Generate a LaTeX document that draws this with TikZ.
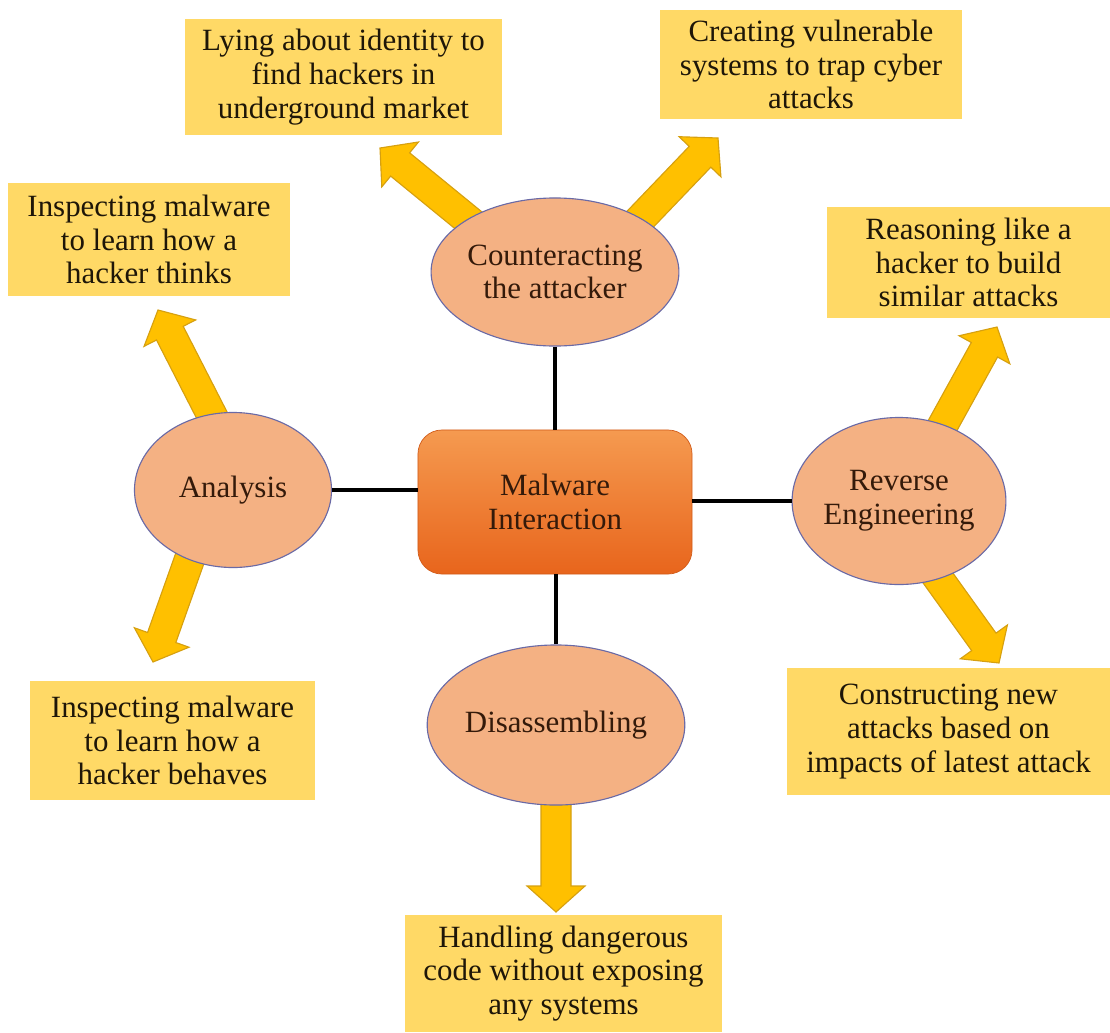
\documentclass[tikz,border=0pt]{standalone}
\usepackage{fontspec}
\setmainfont{Liberation Serif}
\usetikzlibrary{calc,positioning,shapes.geometric,backgrounds}

\definecolor{boxfill}{HTML}{FFD966}
\definecolor{arrfill}{HTML}{FFC000}
\definecolor{arredge}{HTML}{D6A010}
\definecolor{ovalfill}{HTML}{F4B183}
\definecolor{ovaledge}{HTML}{6A6AA6}
\definecolor{hubtop}{HTML}{F59A50}
\definecolor{hubbot}{HTML}{E8651C}
\definecolor{inkbrown}{HTML}{341A0A}
\definecolor{inkdark}{HTML}{1E1608}

% block arrow from #1 to #2
\newcommand{\fatarrow}[2]{%
  \filldraw[fatarr] ($(#1)!-0.2cm!(#2)!0.375cm!90:(#2)$)
    -- ($(#2)!0.65cm!(#1)!0.375cm!90:(#2)$)
    -- ($(#2)!0.65cm!(#1)!0.725cm!90:(#2)$)
    -- (#2)
    -- ($(#2)!0.65cm!(#1)!0.725cm!-90:(#2)$)
    -- ($(#2)!0.65cm!(#1)!0.375cm!-90:(#2)$)
    -- ($(#1)!-0.2cm!(#2)!0.375cm!-90:(#2)$) -- cycle;}

\begin{document}
\begin{tikzpicture}[x=0.025cm, y=-0.025cm,
  idea/.style={fill=boxfill, inner sep=0pt, align=center, text=inkdark,
    font=\fontsize{22}{24}\selectfont},
  oval/.style={ellipse, draw=ovaledge, line width=0.8pt, fill=ovalfill, inner sep=0pt,
    align=center, text=inkbrown, font=\fontsize{22}{24}\selectfont},
  hub/.style={rounded corners=0.6cm, draw=hubbot!90!black, line width=0.5pt,
    top color=hubtop, bottom color=hubbot, inner sep=0pt, align=center,
    text=inkbrown, font=\fontsize{22}{24}\selectfont},
  link/.style={line width=2.8pt},
  fatarr/.style={fill=arrfill, draw=arredge, line width=0.8pt, line join=miter}]

\useasboundingbox (0,0) rectangle (1110,1032);

% Centro
\node[hub, minimum width=6.85cm, minimum height=3.6cm] (hub) at (555,502) {Malware\\Interaction};

% Ellissi
\node[oval, minimum width=4.85cm, minimum height=3.7cm] (cnt) at (555,272) {Counteracting\\the attacker};
\node[oval, minimum width=4.925cm, minimum height=3.875cm] (ana) at (233,490) {Analysis};
\node[oval, minimum width=4.7cm, minimum height=4.175cm] (rev) at (899,501) {Reverse\\Engineering};
\node[oval, minimum width=4.675cm, minimum height=4cm] (dis) at (556,725) {Disassembling};

% Riquadri
\node[idea, minimum width=7.925cm, minimum height=2.9cm] (lie) at (343.5,77)
  {Lying about identity to\\find hackers in\\underground market};
\node[idea, minimum width=7.55cm, minimum height=2.725cm] (trap) at (811,64.5)
  {Creating vulnerable\\systems to trap cyber\\attacks};
\node[idea, minimum width=7.05cm, minimum height=2.825cm] (think) at (149,239.5)
  {Inspecting malware\\to learn how a\\hacker thinks};
\node[idea, minimum width=7.075cm, minimum height=2.775cm] (reason) at (968.5,262.5)
  {Reasoning like a\\hacker to build\\similar attacks};
\node[idea, minimum width=7.125cm, minimum height=2.975cm] (behave) at (172.5,740.5)
  {Inspecting malware\\to learn how a\\hacker behaves};
\node[idea, minimum width=8.075cm, minimum height=3.175cm] (build) at (948.5,731.5)
  {Constructing new\\attacks based on\\impacts of latest attack};
\node[idea, minimum width=7.925cm, minimum height=2.925cm] (handle) at (563.5,973.5)
  {Handling dangerous\\code without exposing\\any systems};

% Punte delle frecce
\coordinate (tLie) at (380,148);
\coordinate (tTrap) at (718,138);
\coordinate (tThink) at (158,310);
\coordinate (tBehave) at (153,662);
\coordinate (tReason) at (997,327);
\coordinate (tBuild) at (999,663);
\coordinate (tHandle) at (556,912);

% Frecce
\begin{scope}[on background layer]
\fatarrow{cnt.149}{tLie}
\fatarrow{cnt.32}{tTrap}
\fatarrow{ana.106}{tThink}
\fatarrow{ana.238}{tBehave}
\fatarrow{rev.60}{tReason}
\fatarrow{rev.-63}{tBuild}
\fatarrow{dis.south}{tHandle}
\end{scope}

% Collegamenti
\draw[link] (cnt) -- (hub);
\draw[link] (ana.east) -- (ana.east -| hub.west);
\draw[link] (rev.west) -- (rev.west -| hub.east);
\draw[link] (dis.north) -- (dis.north |- hub.south);

\end{tikzpicture}
\end{document}
